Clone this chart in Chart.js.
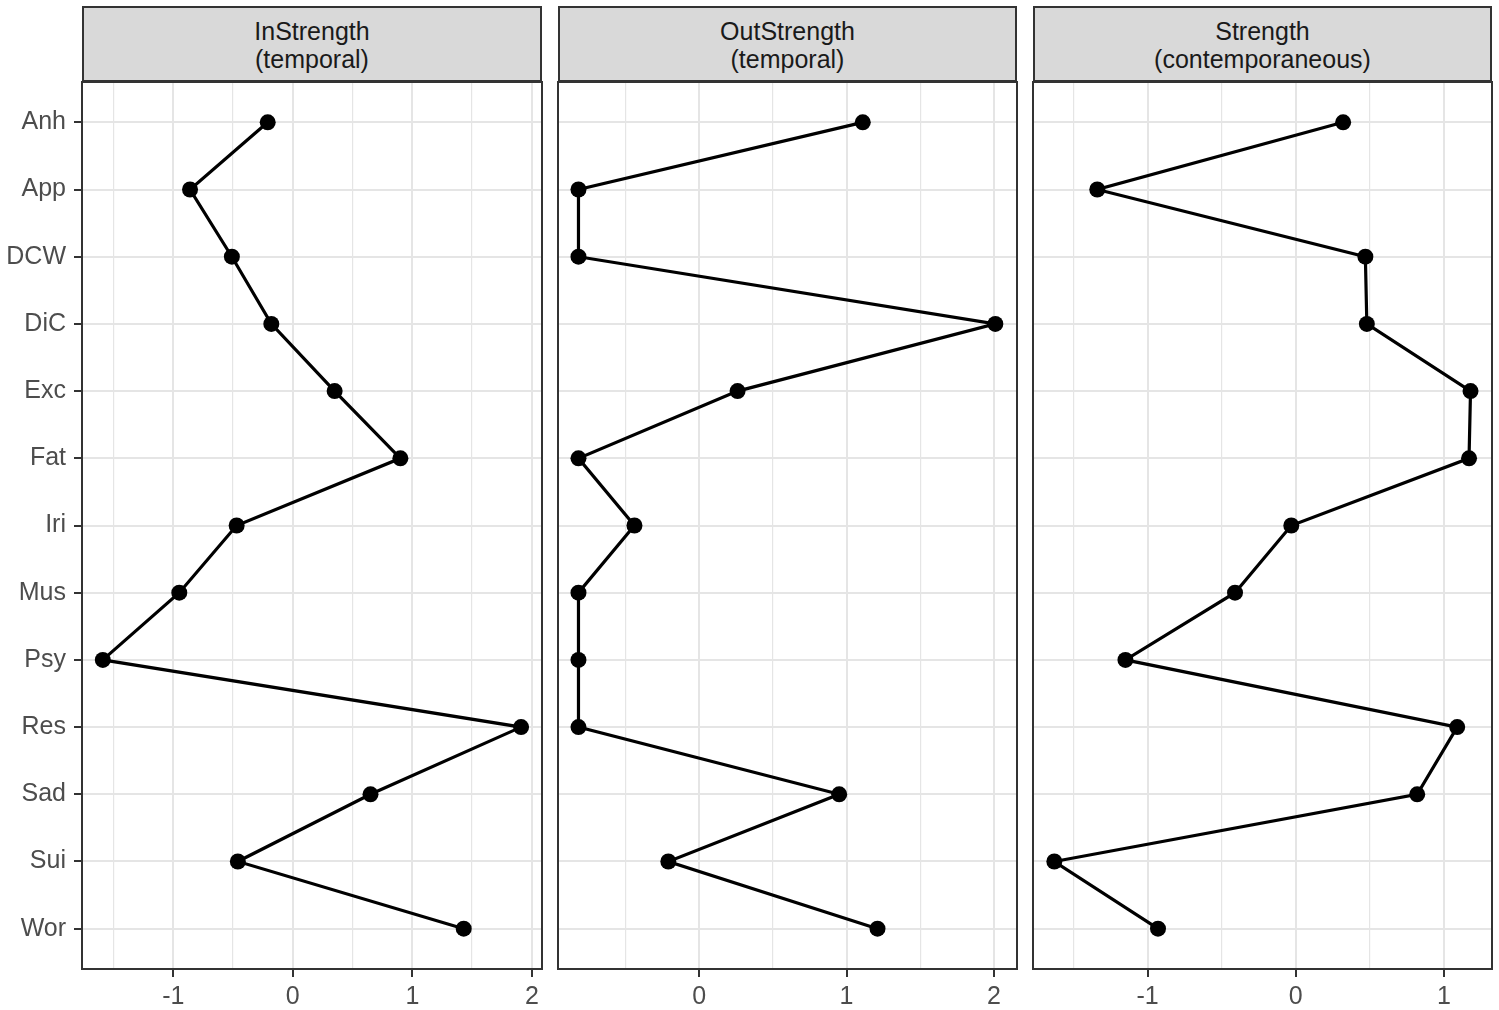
<!DOCTYPE html>
<html>
<head>
<meta charset="utf-8">
<script src="https://cdn.jsdelivr.net/npm/chart.js@4"></script>
<style>
  body { margin: 0; background: #fff; }
  #wrap { position: relative; width: 1499px; height: 1010px; overflow: hidden; }
  canvas { position: absolute; top: 0; }
  .strip {
    position: absolute; top: 6px; height: 76px; box-sizing: border-box;
    background: #d9d9d9; border: 2px solid #333;
    font-family: "Liberation Sans", Arial, sans-serif; font-size: 25px; line-height: 28px;
    color: #1a1a1a; text-align: center; padding-top: 9px;
  }
</style>
</head>
<body>
<div id="wrap">
  <div class="strip" id="strip0" style="left:82px;width:460px"></div>
  <div class="strip" id="strip1" style="left:558px;width:459px"></div>
  <div class="strip" id="strip2" style="left:1033px;width:459px"></div>
  <canvas id="c0" width="544" height="1010" style="left:0px"></canvas>
  <canvas id="c1" width="463" height="1010" style="left:556px"></canvas>
  <canvas id="c2" width="463" height="1010" style="left:1031px"></canvas>
</div>
<script>
// data
const categories = ['Anh', 'App', 'DCW', 'DiC', 'Exc', 'Fat', 'Iri', 'Mus', 'Psy', 'Res', 'Sad', 'Sui', 'Wor'];
const inStrength  = [-0.21, -0.86, -0.51, -0.18, 0.35, 0.90, -0.47, -0.95, -1.59, 1.91, 0.65, -0.46, 1.43];
const outStrength = [1.11, -0.82, -0.82, 2.01, 0.26, -0.82, -0.44, -0.82, -0.82, -0.82, 0.95, -0.21, 1.21];
const strength    = [0.32, -1.34, 0.47, 0.48, 1.18, 1.17, -0.03, -0.41, -1.15, 1.09, 0.82, -1.63, -0.93];
const panelTitles = [['InStrength', '(temporal)'], ['OutStrength', '(temporal)'], ['Strength', '(contemporaneous)']];
const xLimits = [[-1.764, 2.085], [-0.959, 2.157], [-1.774, 1.325]];
const xTicks = [
  [-1.5, -1, -0.5, 0, 0.5, 1, 1.5, 2],
  [-0.5, 0, 0.5, 1, 1.5, 2],
  [-1.5, -1, -0.5, 0, 0.5, 1]
];
const series = [inStrength, outStrength, strength];

Chart.defaults.font.family = '"Liberation Sans", Arial, sans-serif';
Chart.defaults.font.size = 25;
Chart.defaults.color = '#4d4d4d';

// box round the panel
const panelBox = {
  id: 'panelBox',
  afterDraw(chart) {
    const a = chart.chartArea, ctx = chart.ctx;
    ctx.save();
    ctx.strokeStyle = '#333';
    ctx.lineWidth = 2;
    ctx.strokeRect(a.left, a.top, a.right - a.left, a.bottom - a.top);
    ctx.restore();
  }
};

function makePanel(i) {
  const first = i === 0;
  document.getElementById('strip' + i).innerHTML = panelTitles[i].join('<br>');
  const pts = series[i].map((v, k) => ({ x: v, y: k }));
  const isMajor = (v) => Number.isInteger(v);

  new Chart(document.getElementById('c' + i), {
    type: 'scatter',
    data: {
      datasets: [{
        data: pts,
        showLine: true,
        borderColor: '#000',
        borderWidth: 3.2,
        backgroundColor: '#000',
        pointBackgroundColor: '#000',
        pointBorderWidth: 0,
        pointRadius: 8,
        pointHoverRadius: 8,
        clip: 10
      }]
    },
    options: {
      responsive: false,
      animation: false,
      events: [],
      layout: { autoPadding: false, padding: { top: 82, left: first ? 0 : 2, right: 2, bottom: 0 } },
      plugins: { legend: { display: false }, tooltip: { enabled: false } },
      scales: {
        x: {
          type: 'linear',
          min: xLimits[i][0],
          max: xLimits[i][1],
          afterBuildTicks: (s) => { s.ticks = xTicks[i].map(v => ({ value: v })); },
          afterFit: (s) => { s.height = 41; },
          border: { display: false },
          grid: {
            color: '#e5e5e5',
            lineWidth: (c) => isMajor(c.tick.value) ? 2 : 1.2,
            tickColor: (c) => isMajor(c.tick.value) ? '#333' : 'rgba(0,0,0,0)',
            tickWidth: 2,
            tickLength: 8
          },
          ticks: {
            autoSkip: false,
            maxRotation: 0,
            padding: 5,
            callback: (v) => isMajor(v) ? String(v) : ''
          }
        },
        y: {
          type: 'linear',
          reverse: true,
          min: -0.6,
          max: categories.length - 0.4,
          afterBuildTicks: (s) => { s.ticks = categories.map((c, k) => ({ value: k })); },
          afterFit: (s) => { s.width = first ? 82 : 0; },
          border: { display: false },
          grid: {
            color: '#e5e5e5',
            lineWidth: 2,
            drawTicks: first,
            tickColor: '#333',
            tickWidth: 2,
            tickLength: 8
          },
          ticks: {
            display: first,
            autoSkip: false,
            padding: 8,
            callback: (v) => categories[v]
          }
        }
      }
    },
    plugins: [panelBox]
  });
}

[0, 1, 2].forEach(makePanel);
</script>
</body>
</html>
